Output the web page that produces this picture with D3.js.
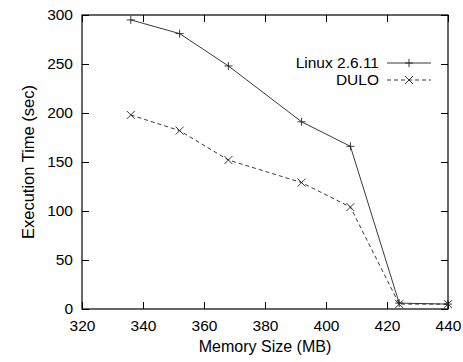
<!DOCTYPE html>
<html>
<head>
<meta charset="utf-8">
<script src="https://cdn.jsdelivr.net/npm/d3@7"></script>
<style>
  body { margin: 0; background: #fff; }
  svg { font-family: "Liberation Sans", Arial, sans-serif; }
</style>
</head>
<body>
<svg></svg>
<script>
// values
const memorySizes = [336, 352, 368, 392, 408, 424, 440];
const linuxTimes = [295, 281, 248, 191, 166, 6, 5];
const duloTimes = [198, 182, 152, 129, 104, 5, 5];
const xTicks = [320, 340, 360, 380, 400, 420, 440];
const yTicks = [0, 50, 100, 150, 200, 250, 300];

let width = 463;
let height = 362;
let plotLeft = 82, plotRight = 448, plotTop = 15, plotBottom = 309;

const svg = d3.select("svg")
  .attr("width", width)
  .attr("height", height);

const xScale = d3.scaleLinear().domain([320, 440]).range([plotLeft, plotRight]);
const yScale = d3.scaleLinear().domain([0, 300]).range([plotBottom, plotTop]);

function styleAxis(g) {
  g.select(".domain").remove();
  g.selectAll("line").attr("stroke", "#000");
  g.selectAll("text").attr("font-size", 15.5).attr("fill", "#000")
    .attr("font-family", "Liberation Sans, Arial, sans-serif");
}

svg.append("g")
  .attr("transform", `translate(0, ${plotBottom})`)
  .call(d3.axisBottom(xScale).tickValues(xTicks).tickSizeInner(-7).tickSizeOuter(0).tickPadding(11))
  .call(styleAxis);

svg.append("g")
  .attr("transform", `translate(0, ${plotTop})`)
  .call(d3.axisTop(xScale).tickValues(xTicks).tickSizeInner(-7).tickSizeOuter(0).tickFormat(""))
  .call(styleAxis);

svg.append("g")
  .attr("transform", `translate(${plotLeft}, 0)`)
  .call(d3.axisLeft(yScale).tickValues(yTicks).tickSizeInner(-7).tickSizeOuter(0).tickPadding(9))
  .call(styleAxis);

svg.append("g")
  .attr("transform", `translate(${plotRight}, 0)`)
  .call(d3.axisRight(yScale).tickValues(yTicks).tickSizeInner(-7).tickSizeOuter(0).tickFormat(""))
  .call(styleAxis);

// frame
svg.append("rect")
  .attr("x", plotLeft).attr("y", plotTop)
  .attr("width", plotRight - plotLeft).attr("height", plotBottom - plotTop)
  .attr("fill", "none").attr("stroke", "#000").attr("stroke-width", 1.2);

// axis titles
svg.append("text")
  .attr("x", (plotLeft + plotRight) / 2).attr("y", 352)
  .attr("text-anchor", "middle").attr("font-size", 16)
  .text("Memory Size (MB)");

svg.append("text")
  .attr("transform", `translate(34, ${(plotTop + plotBottom) / 2}) rotate(-90)`)
  .attr("text-anchor", "middle").attr("font-size", 16.5)
  .text("Execution Time (sec)");

const line = d3.line()
  .x((d, i) => xScale(memorySizes[i]))
  .y((d) => yScale(d));

const series = [
  { name: "Linux 2.6.11", values: linuxTimes, dash: null, mark: "plus" },
  { name: "DULO", values: duloTimes, dash: "4,3", mark: "cross" }
];

function drawMark(g, type, x, y) {
  let s = 4;
  let p = type == "plus"
    ? `M${x - s},${y}H${x + s}M${x},${y - s}V${y + s}`
    : `M${x - s},${y - s}L${x + s},${y + s}M${x - s},${y + s}L${x + s},${y - s}`;
  g.append("path").attr("d", p).attr("stroke", "#222").attr("stroke-width", 0.9).attr("fill", "none");
}

series.forEach((s, k) => {
  const g = svg.append("g");
  g.append("path")
    .attr("d", line(s.values))
    .attr("fill", "none")
    .attr("stroke", "#222")
    .attr("stroke-width", 0.9)
    .attr("stroke-dasharray", s.dash);
  s.values.forEach((v, i) => drawMark(g, s.mark, xScale(memorySizes[i]), yScale(v)));

  // legend
  let ly = 63 + k * 17;
  svg.append("text")
    .attr("x", 379).attr("y", ly).attr("dy", "0.35em")
    .attr("text-anchor", "end").attr("font-size", 15.5)
    .text(s.name);
  svg.append("line")
    .attr("x1", 387).attr("x2", 431).attr("y1", ly).attr("y2", ly)
    .attr("stroke", "#222").attr("stroke-width", 0.9)
    .attr("stroke-dasharray", s.dash);
  drawMark(svg, s.mark, 409, ly);
});
</script>
</body>
</html>
